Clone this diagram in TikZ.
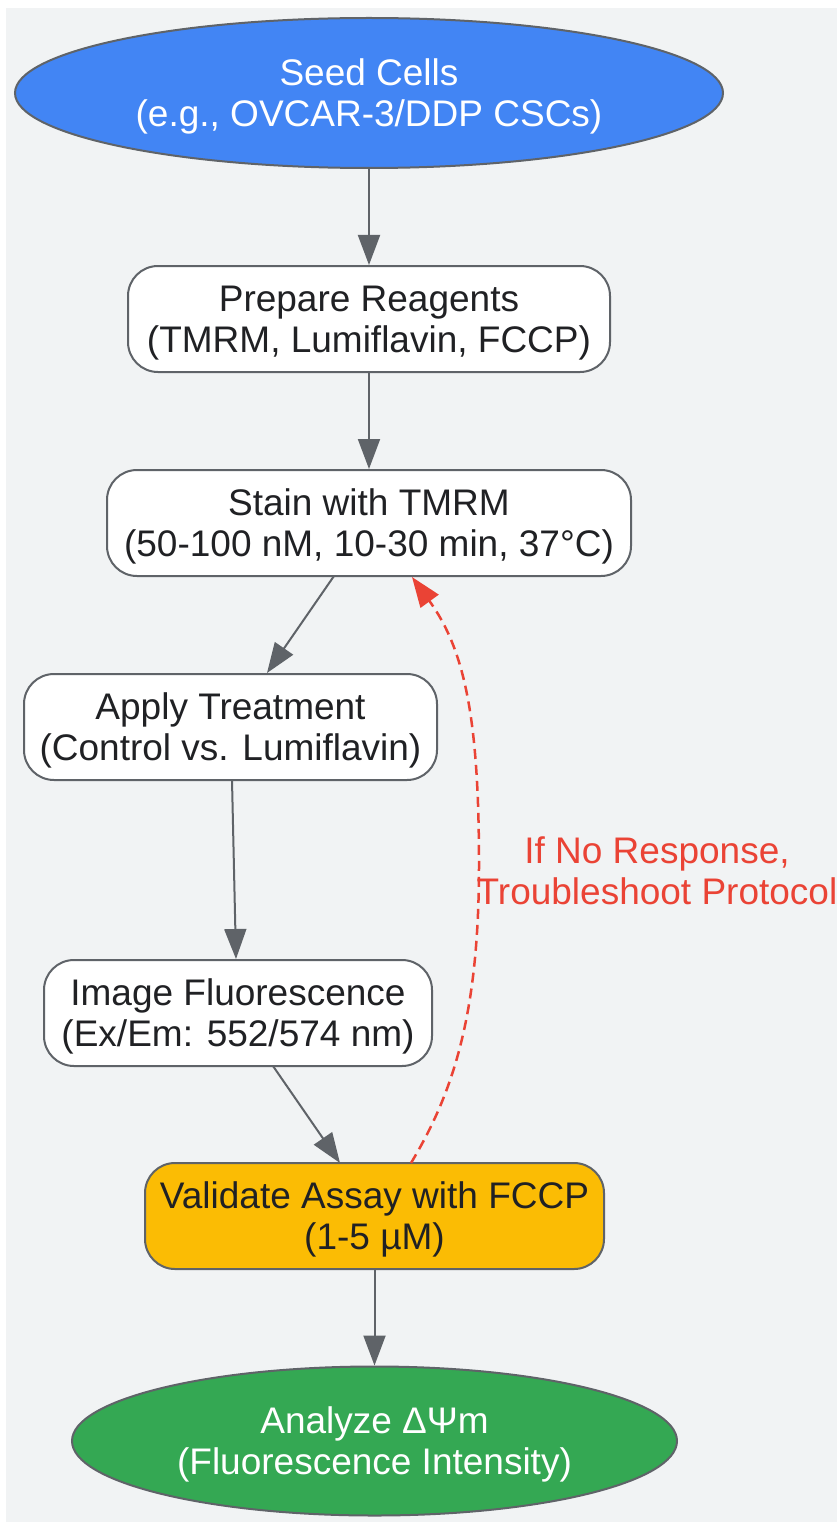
\documentclass[tikz,border=0pt]{standalone}
\usepackage{fontspec}
\setmainfont{Liberation Sans}
\usetikzlibrary{shapes.geometric,arrows.meta}
\definecolor{bg}{HTML}{F1F3F4}
\definecolor{edgegray}{HTML}{5F6368}
\definecolor{gblue}{HTML}{4285F4}
\definecolor{ggreen}{HTML}{34A853}
\definecolor{gyellow}{HTML}{FBBC04}
\definecolor{gred}{HTML}{EA4335}
\definecolor{txt}{HTML}{202124}
\tikzset{
  every node/.style={font=\fontsize{37}{41}\selectfont, align=center, inner sep=0pt},
  oval/.style={ellipse, draw=edgegray, line width=2pt, text=white, text depth=0pt},
  box/.style={rectangle, rounded corners=30pt, draw=edgegray, line width=2pt, fill=white, text=txt, minimum height=106pt, text depth=0pt},
  flow/.style={draw=edgegray, line width=2pt, -{Triangle[length=30pt,width=22pt]}},
  back/.style={draw=gred, line width=2.5pt, dash pattern=on 10pt off 6pt, -{Triangle[length=30pt,width=22pt]}},
}
\begin{document}
\begin{tikzpicture}[x=1pt,y=-1pt]
\useasboundingbox (0,0) rectangle (837,1522);
\fill[bg] (6,8) rectangle (837,1522);
\node[oval, fill=gblue, minimum width=708pt, minimum height=150pt] (seed) at (369,93) {Seed Cells\\(e.g., OVCAR-3/DDP CSCs)};
\node[box, minimum width=482pt] (prep) at (369,319) {Prepare Reagents\\(TMRM, Lumiflavin, FCCP)};
\node[box, minimum width=524pt] (stain) at (369,523) {Stain with TMRM\\(50-100 nM, 10-30 min, 37°C)};
\node[box, minimum width=413pt] (treat) at (230.5,727) {Apply Treatment\\(Control vs. Lumiflavin)};
\node[box, minimum width=388pt] (img) at (238,1013) {Image Fluorescence\\(Ex/Em: 552/574 nm)};
\node[box, fill=gyellow, minimum width=459pt] (val) at (374.5,1216) {Validate Assay with FCCP\\(1-5 µM)};
\node[oval, fill=ggreen, minimum width=605pt, minimum height=149pt] (ana) at (374.5,1441) {Analyze ΔΨm\\(Fluorescence Intensity)};
\coordinate (s1) at (334,576);
\coordinate (t1) at (267,673);
\coordinate (s2) at (232,780);
\coordinate (t2) at (236,959);
\coordinate (s3) at (273,1066);
\coordinate (t3) at (340,1163);
\coordinate (bs) at (411,1163);
\coordinate (bm) at (479,865);
\coordinate (bt) at (412,577);
\draw[flow] (seed.south) -- (prep.north);
\draw[flow] (prep.south) -- (stain.north);
\draw[flow] (s1) -- (t1);
\draw[flow] (s2) -- (t2);
\draw[flow] (s3) -- (t3);
\draw[flow] (val.south) -- (ana.north);
\draw[back] (bs) .. controls (455,1090) and (479,1010) .. (bm) .. controls (479,720) and (465,650) .. (bt);
\node[text=gred] (lbl) at (657,871) {If No Response,\\Troubleshoot Protocol};
\end{tikzpicture}
\end{document}
